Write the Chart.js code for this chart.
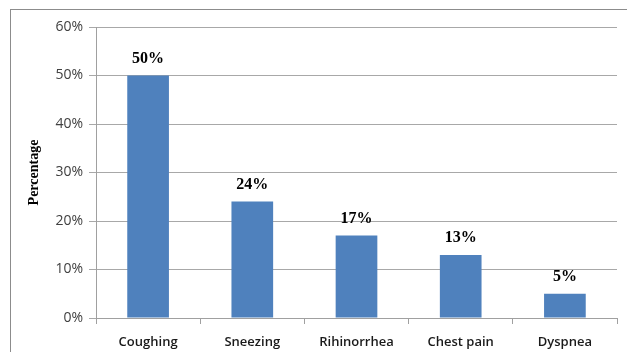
<!DOCTYPE html>
<html><head><meta charset="utf-8">
<script src="https://cdn.jsdelivr.net/npm/chart.js@4"></script>
<style>html,body{margin:0;padding:0;background:#fff}#wrap{width:627px;height:352px}</style>
</head><body><div id="wrap"><canvas id="c" width="627" height="352"></canvas></div>
<script>
const categories = ["Coughing", "Sneezing", "Rihinorrhea", "Chest pain", "Dyspnea"];
const percentages = [50, 24, 17, 13, 5];
const yTicks = [0, 10, 20, 30, 40, 50, 60];

const frame = {
  id: 'frame',
  beforeDraw(chart) {
    const ctx = chart.ctx;
    ctx.save();
    ctx.strokeStyle = '#8c8c8c';
    ctx.lineWidth = 1;
    ctx.strokeRect(10.5, 9.5, 640, 360);
    ctx.restore();
  }
};
const valueLabels = {
  id: 'valueLabels',
  afterDatasetsDraw(chart) {
    const ctx = chart.ctx;
    const meta = chart.getDatasetMeta(0);
    ctx.save();
    ctx.font = 'bold 16px "Liberation Serif", "Times New Roman", serif';
    ctx.fillStyle = '#000';
    ctx.textAlign = 'center';
    ctx.textBaseline = 'bottom';
    meta.data.forEach((bar, i) => {
      ctx.fillText(percentages[i] + '%', bar.x, bar.y - 9);
    });
    ctx.restore();
  }
};

new Chart(document.getElementById('c'), {
  type: 'bar',
  data: {
    labels: categories,
    datasets: [{
      data: percentages,
      backgroundColor: '#4f81bd',
      categoryPercentage: 0.4,
      barPercentage: 1.0
    }]
  },
  options: {
    responsive: false,
    animation: false,
    devicePixelRatio: 1,
    layout: { padding: { left: 0, right: 10, top: 27, bottom: 0 } },
    plugins: { legend: { display: false }, tooltip: { enabled: false } },
    scales: {
      x: {
        grid: { drawOnChartArea: false, offset: true, tickLength: 6, color: '#a0a0a0' },
        border: { color: '#a0a0a0' },
        ticks: { color: '#1a1a1a', padding: 10, font: { family: '"Open Sans", sans-serif', size: 13, weight: '600' } },
        afterFit(s) { s.height = 34; }
      },
      y: {
        min: 0, max: 60,
        afterBuildTicks(s) { s.ticks = yTicks.map(v => ({ value: v })); },
        grid: { color: '#a8a8a8', tickLength: 7 },
        border: { color: '#a0a0a0' },
        ticks: { color: '#404040', padding: 6, font: { family: '"Open Sans", sans-serif', size: 14 }, callback: v => v + '%' },
        title: { display: true, text: 'Percentage', color: '#000', padding: { top: 26, bottom: 0 },
          font: { family: '"Liberation Serif", "Times New Roman", serif', size: 14, weight: 'bold' } },
        afterFit(s) { s.width = 96; }
      }
    }
  },
  plugins: [frame, valueLabels]
});
</script></body></html>
